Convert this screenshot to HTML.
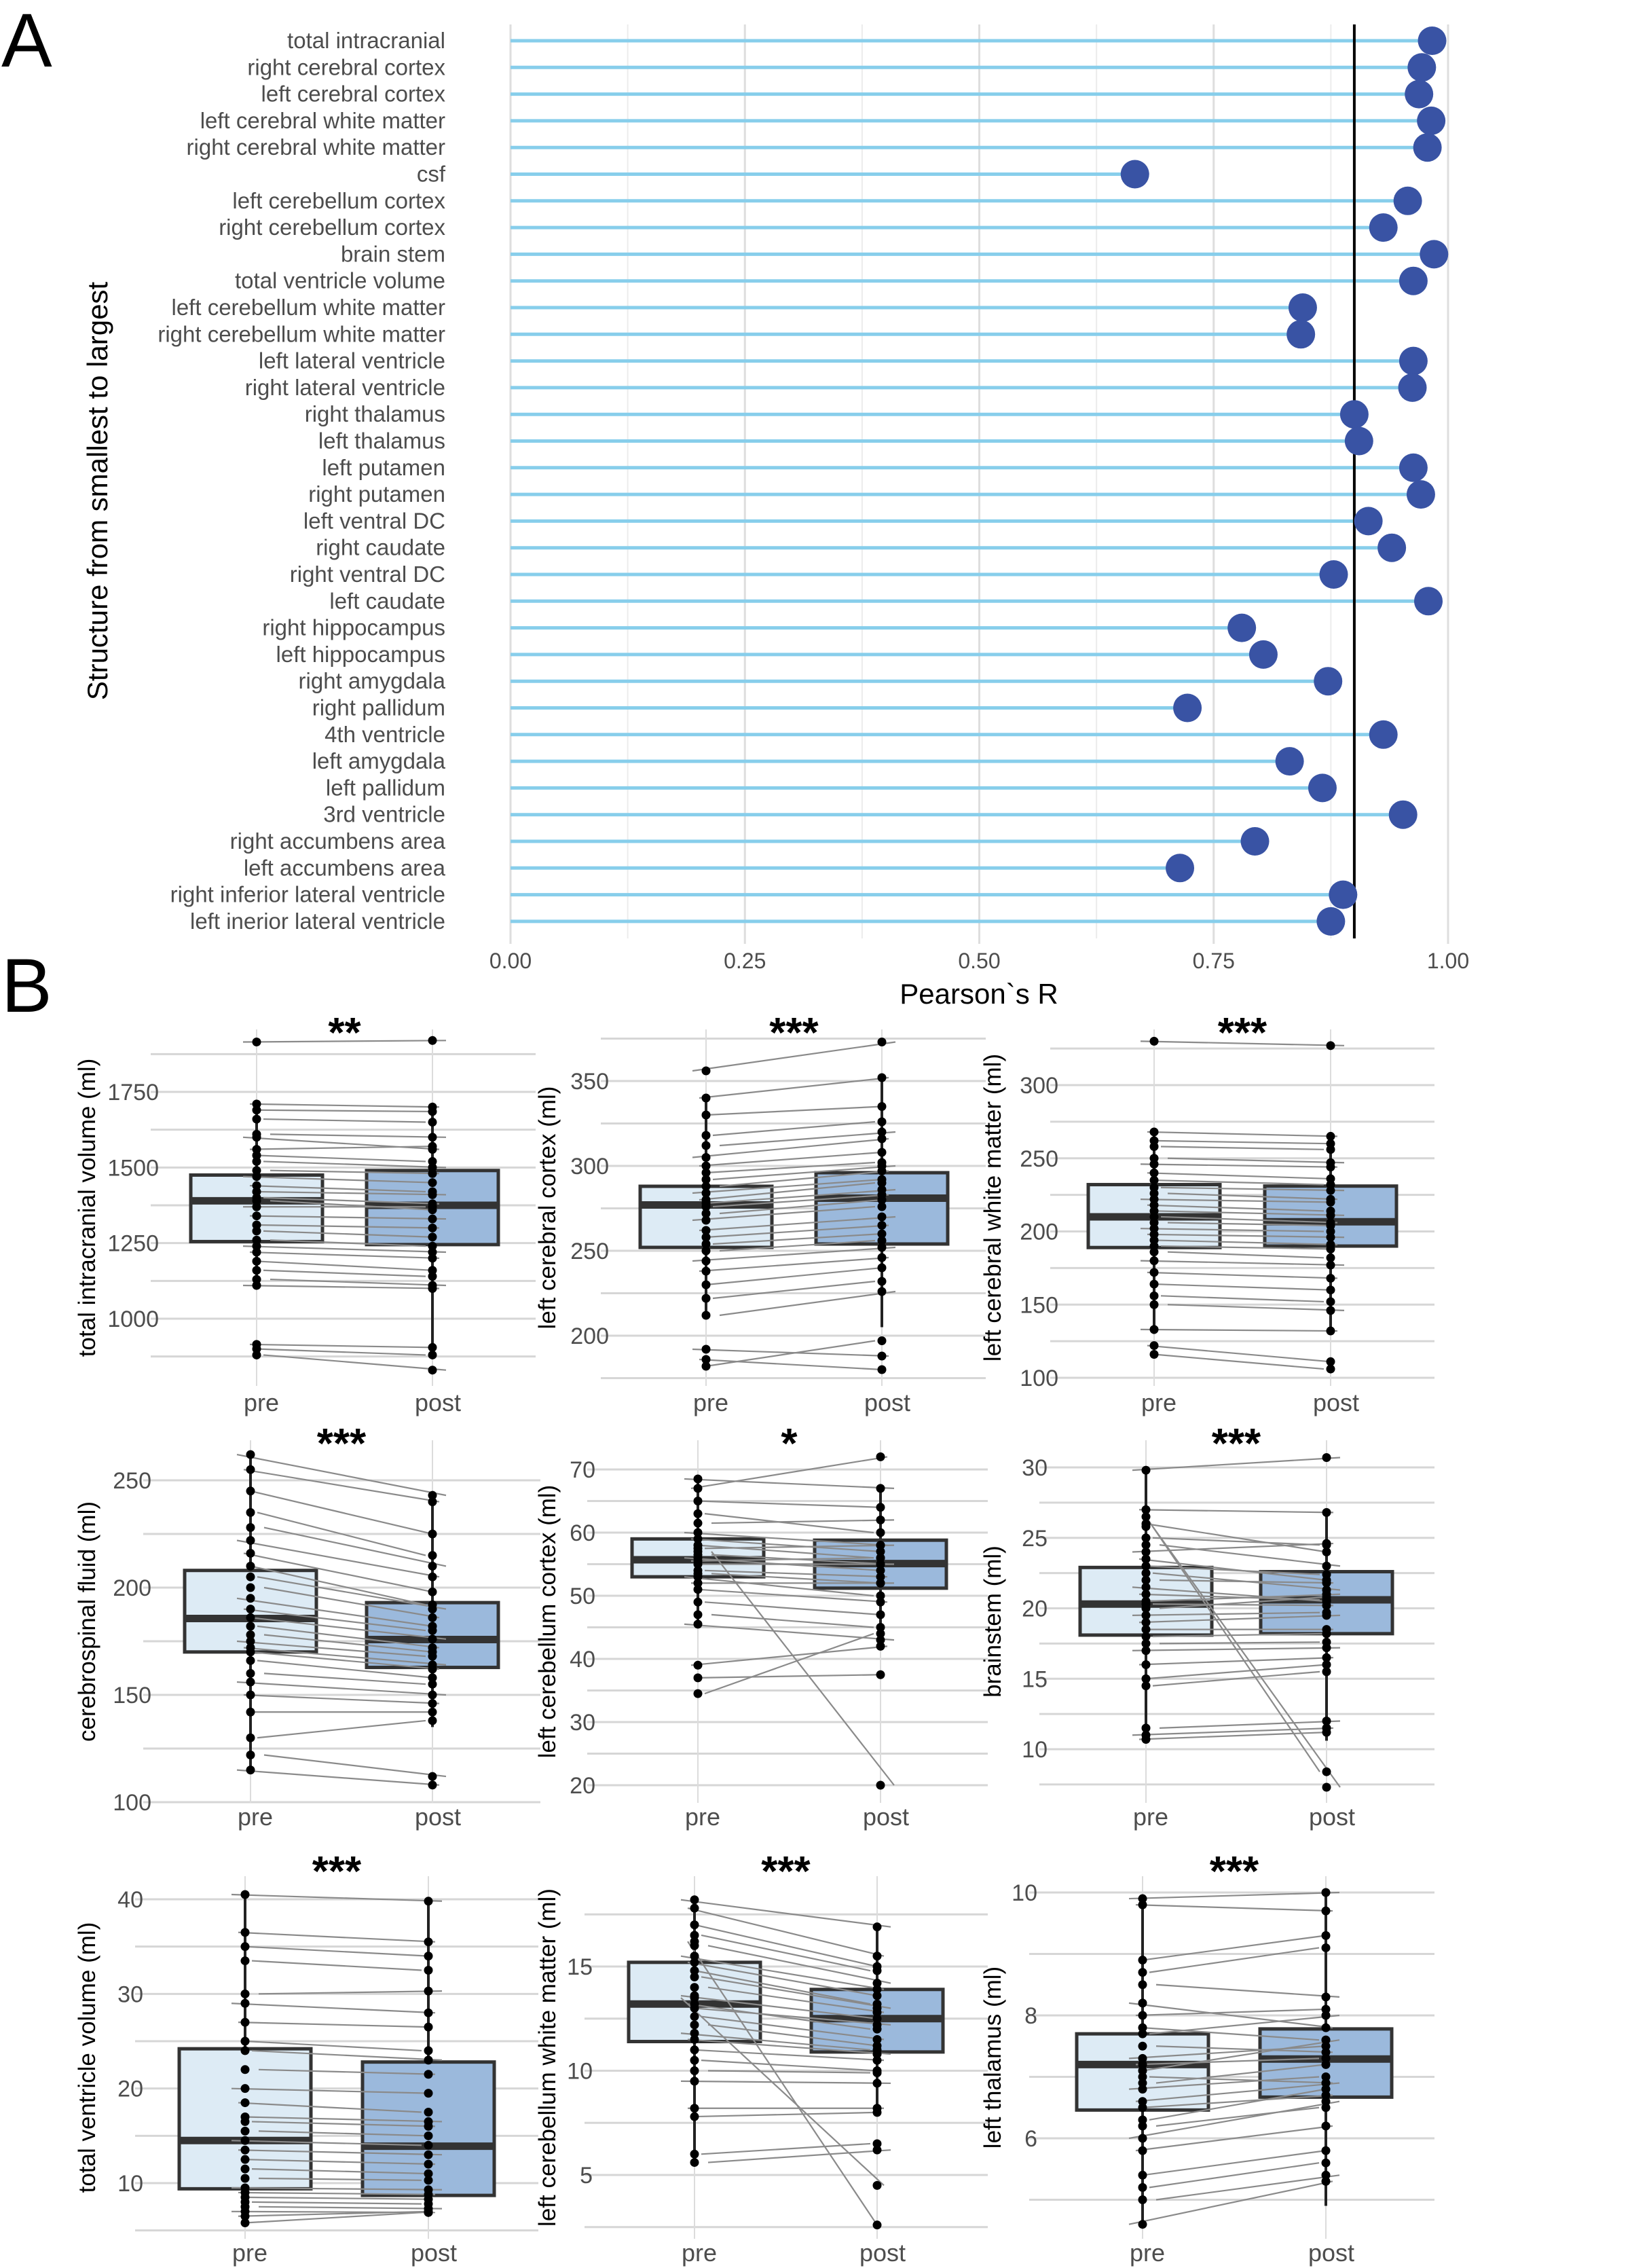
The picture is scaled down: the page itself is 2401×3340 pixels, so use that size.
<!DOCTYPE html>
<html><head><meta charset="utf-8">
<style>
html,body{margin:0;padding:0;background:#fff;}
svg{display:block;}
text{font-family:"Liberation Sans Narrow","Liberation Sans",sans-serif;}
</style></head>
<body>
<svg id="fig" xmlns="http://www.w3.org/2000/svg" width="2401" height="3340" viewBox="0 0 2401 3340">
<text x="2" y="98" font-size="112" fill="#000">A</text>
<text x="2" y="1490" font-size="112" fill="#000">B</text>
<g id="panelA"></g>
<g id="panelB"></g>
</svg>
<script>
const NS="http://www.w3.org/2000/svg";
const structures=["total intracranial","right cerebral  cortex","left cerebral cortex","left cerebral white matter","right cerebral white matter","csf","left cerebellum cortex","right cerebellum cortex","brain stem","total ventricle volume","left cerebellum white matter","right cerebellum white matter","left lateral ventricle","right lateral ventricle","right thalamus","left thalamus","left putamen","right putamen","left ventral DC","right caudate","right ventral DC","left caudate","right hippocampus","left hippocampus","right amygdala","right pallidum","4th ventricle","left amygdala","left pallidum","3rd ventricle","right accumbens area","left accumbens area","right inferior lateral ventricle","left inerior lateral ventricle"];
const pearsonR=[0.983,0.972,0.969,0.982,0.978,0.666,0.957,0.931,0.985,0.963,0.845,0.843,0.963,0.962,0.900,0.905,0.963,0.971,0.915,0.940,0.878,0.979,0.780,0.803,0.872,0.722,0.931,0.831,0.866,0.952,0.794,0.714,0.888,0.875];
const xTicks=[0,0.25,0.5,0.75,1.0];
const xTickLabels=["0.00","0.25","0.50","0.75","1.00"];
const threshold=0.9;

function mk(tag,attrs,parent){const e=document.createElementNS(NS,tag);for(const k in attrs)e.setAttribute(k,attrs[k]);parent.appendChild(e);return e;}

(function(){
const g=document.getElementById('panelA');
const x=v=>752+v*1381;
const y=i=>60+i*39.3;
for(let v=0.125;v<1.01;v+=0.25){const l=mk('line',{x1:x(v),x2:x(v),y1:36,y2:1382,stroke:'#ececec','stroke-width':2},g);

}
xTicks.forEach((v,i)=>{const l=mk('line',{x1:x(v),x2:x(v),y1:36,y2:1390,stroke:'#dedede','stroke-width':3},g);


const t=mk('text',{x:x(v),y:1426,'font-size':32,fill:'#4d4d4d','text-anchor':'middle'},g);t.textContent=xTickLabels[i];

});
structures.forEach((s,i)=>{
const l=mk('line',{x1:x(0),x2:x(pearsonR[i]),y1:y(i),y2:y(i),stroke:'#87CEEB','stroke-width':5},g);


const t=mk('text',{x:656,y:y(i)+11,'font-size':33,fill:'#4d4d4d','text-anchor':'end'},g);t.textContent=s;


});
const vl=mk('line',{x1:x(threshold),x2:x(threshold),y1:36,y2:1382,stroke:'#000','stroke-width':4},g);


structures.forEach((s,i)=>{const c=mk('circle',{cx:x(pearsonR[i]),cy:y(i),r:21,fill:'#3953A4'},g);

});
const xt=mk('text',{x:1442,y:1478,'font-size':42,fill:'#000','text-anchor':'middle'},g);xt.textContent='Pearson`s R';


const yt=mk('text',{x:0,y:0,'font-size':42,fill:'#000','text-anchor':'middle',transform:'translate(158,723) rotate(-90)'},g);yt.textContent='Structure from smallest to largest';


})();

const titles=["total intracranial volume (ml)","left cerebral cortex (ml)","left cerebral white matter (ml)","cerebrospinal fluid (ml)","left cerebellum cortex (ml)","brainstem (ml)","total ventricle volume (ml)","left cerebellum white matter (ml)","left thalamus (ml)"];
const stars=["**","***","***","***","*","***","***","***","***"];
const ticks=[[1000,1250,1500,1750],[200,250,300,350],[100,150,200,250,300],[100,150,200,250],[20,30,40,50,60,70],[10,15,20,25,30],[10,20,30,40],[5,10,15],[6,8,10]];
const preBox=[[1110,1255,1390,1475,1710],[210,252,277,288,340],[130,189,210,232,268],[115,170,185.6,208,262],[45.5,53,55.7,59,68.5],[10.7,18.1,20.3,22.9,29.8],[5.8,9.4,14.5,24.2,40.5],[5.6,11.4,13.2,15.2,18.2],[4.6,6.46,7.2,7.7,9.9]];
const postBox=[[905,1245,1375,1490,1700],[205,254,281,296,352],[130,190,206.6,231,265],[135,162.8,175.8,193,243],[42,51.2,55.1,58.8,67],[10.6,18.2,20.6,22.6,26.8],[6.9,8.7,13.9,22.8,39.8],[8,10.9,12.5,13.9,16.9],[4.9,6.67,7.29,7.78,10]];
const prePts=[
[1915,1710,1690,1660,1610,1600,1560,1540,1520,1490,1470,1440,1420,1400,1390,1370,1340,1310,1290,1260,1240,1220,1190,1160,1130,1110,915,900,880],
[356,340,330,318,312,305,300,296,292,288,284,280,278,276,272,268,262,258,254,250,244,238,230,222,212,192,186,182],
[330,268,262,258,250,246,240,235,230,226,222,218,214,210,206,202,198,194,190,186,180,172,164,156,150,133,122,116],
[262,255,245,235,228,222,216,210,205,200,195,190,186,182,178,175,172,170,166,160,156,150,142,130,122,115],
[68.5,67,65,63,61.5,60,59,58,57.5,56.5,56,55.5,55,54,53.5,53,52,51,49,47,45.5,39,37,34.5,57],
[29.8,27,26,25,24.5,24,23.5,23,22.5,22,21.5,21,20.5,20.3,20,19.5,19,18.5,18,17.5,17,16,15,14.5,11.5,11,10.7,26.5,25.8],
[40.5,36.5,35,33.5,30,29,27,25,24,22,20,18.5,17,16.5,15.5,14.5,13.5,12.5,11.5,10.5,9.5,9,8.5,8,7.5,7,6.5,5.8],
[18.2,17.8,17,16.5,16,15.5,15.2,14.8,14.5,14,13.6,13.2,13,12.6,12.2,11.8,11.5,11,10.5,10,9.5,8.2,7.8,6,5.6,13.5,16.2],
[9.9,9.8,8.9,8.7,8.5,8.2,8,7.8,7.7,7.5,7.3,7.2,7.1,7,6.9,6.8,6.6,6.5,6.3,6.2,6,5.8,5.4,5.2,5,4.6]];
const postPts=[
[1920,1700,1685,1650,1600,1560,1570,1520,1500,1480,1450,1420,1410,1380,1360,1370,1330,1300,1270,1240,1220,1200,1160,1140,1110,1100,905,880,830],
[373,352,335,326,320,316,308,302,300,297,292,290,286,283,280,276,270,265,260,256,252,246,240,232,226,188,180,197],
[327,265,260,256,247,244,236,232,228,222,220,214,211,206,204,200,196,191,188,182,177,168,160,152,146,132,111,106],
[243,240,225,215,210,205,198,192,190,186,182,180,176,172,170,168,164,162,158,155,150,146,142,138,112,108],
[67,72,64,60,62,58,57,56,58,55,54,56,55,53,52,50,52,49,47,45,43,42,37.5,44,20],
[30.7,26.8,24,24.5,23,24.6,22,22.4,21.3,21.8,20.5,20.6,21,20.2,20.8,19.7,19.5,18.5,18.2,17.6,17.2,16.5,16,15.5,12,11.5,11.2,8.4,7.3],
[39.8,35.5,34,32.5,30.3,28,26.5,24,23,21.5,19.5,17.5,16.5,16,15,14,13,12,11,10.3,9.3,8.8,8.3,7.8,7.3,6.9,7,6.9],
[16.9,15.5,15,14.8,14.2,13.9,13.6,13.2,13,12.8,12.5,12,12.2,11.5,11.2,11,10.8,10.5,10,9.9,9.4,8.2,8,6.5,6.2,4.5,2.6],
[10,9.7,9.3,9.1,8.3,7.8,8.1,7.6,8,7.4,7.5,7.3,7.6,6.9,7.2,7,6.9,6.7,6.8,6.5,6.6,6.2,5.8,5.6,5.4,5.3]];

const layout=[
{gl:222,gr:789,px:378,qx:637,top:1516,bot:2041,va:1750,ya:1608,vb:1000,yb:1942,tx:140,lab:2078,sy:1542},
{gl:885,gr:1452,px:1040,qx:1299,top:1516,bot:2041,va:350,ya:1592,vb:200,yb:1967,tx:818,lab:2078,sy:1542},
{gl:1547,gr:2113,px:1700,qx:1960,top:1516,bot:2041,va:300,ya:1598,vb:100,yb:2029,tx:1474,lab:2078,sy:1542},
{gl:211,gr:796,px:369,qx:637,top:2121,bot:2655,va:250,ya:2180,vb:100,yb:2654,tx:140,lab:2688,sy:2147},
{gl:865,gr:1455,px:1028,qx:1297,top:2121,bot:2655,va:70,ya:2164,vb:20,yb:2629,tx:818,lab:2688,sy:2147},
{gl:1531,gr:2113,px:1688,qx:1954,top:2121,bot:2655,va:30,ya:2161,vb:10,yb:2576,tx:1474,lab:2688,sy:2147},
{gl:199,gr:793,px:361,qx:631,top:2763,bot:3297,va:40,ya:2797,vb:10,yb:3215,tx:140,lab:3330,sy:2777},
{gl:861,gr:1455,px:1023,qx:1292,top:2763,bot:3297,va:15,ya:2896,vb:5,yb:3203,tx:818,lab:3330,sy:2777},
{gl:1516,gr:2113,px:1683,qx:1953,top:2763,bot:3297,va:10,ya:2787,vb:6,yb:3149,tx:1474,lab:3330,sy:2777}];

(function(){
const root=document.getElementById('panelB');
titles.forEach((title,p)=>{
const L=layout[p];
const g=mk('g',{},root);


const y=v=>L.ya+(v-L.va)*(L.yb-L.ya)/(L.vb-L.va);
const tk=ticks[p];const step=tk[1]-tk[0];const half=step/2;
const vTop=L.va+(L.top-L.ya)*(L.vb-L.va)/(L.yb-L.ya);
const vBot=L.va+(L.bot-L.ya)*(L.vb-L.va)/(L.yb-L.ya);
let start=Math.ceil(Math.min(vTop,vBot)/half)*half;
for(let v=start;v<=Math.max(vTop,vBot)+1e-9;v+=half){
const l=mk('line',{x1:L.gl,x2:L.gr,y1:y(v),y2:y(v),stroke:'#d6d6d6','stroke-width':3},g);

}
[L.px,L.qx].forEach(xx=>{const l=mk('line',{x1:xx,x2:xx,y1:L.top,y2:L.bot,stroke:'#dcdcdc','stroke-width':2},g);

});
tk.forEach(v=>{const t=mk('text',{x:L.gl+12,y:y(v)+12,'font-size':34,fill:'#4d4d4d','text-anchor':'end'},g);t.textContent=String(v);

});
[[L.px,preBox[p],'#DDEBF5'],[L.qx,postBox[p],'#9BB9DC']].forEach(([cx,b,fill],k)=>{
const w=mk('line',{x1:cx,x2:cx,y1:y(b[0]),y2:y(b[4]),stroke:'#222','stroke-width':4},g);


const r=mk('rect',{x:cx-97,y:Math.min(y(b[1]),y(b[3])),width:194,height:Math.abs(y(b[1])-y(b[3])),fill:fill,stroke:'#333','stroke-width':5},g);


const m=mk('line',{x1:cx-97,x2:cx+97,y1:y(b[2]),y2:y(b[2]),stroke:'#333','stroke-width':11},g);


});
prePts[p].forEach((v,i)=>{const l=mk('line',{x1:L.px-20+(i%5)*10,x2:L.qx+20-(i%4)*10,y1:y(v),y2:y(postPts[p][i]),stroke:'#8a8a8a','stroke-width':2.2},g);

});
prePts[p].forEach((v,i)=>{
const a=mk('circle',{cx:L.px,cy:y(v),r:6.5,fill:'#000'},g);


const b=mk('circle',{cx:L.qx,cy:y(postPts[p][i]),r:6.5,fill:'#000'},g);

});
const st=mk('text',{x:(L.px+L.qx)/2,y:L.sy,'font-size':62,'font-weight':'bold',fill:'#000','text-anchor':'middle'},g);st.textContent=stars[p];


[[L.px+7,'pre'],[L.qx+8,'post']].forEach(([xx,s])=>{const t=mk('text',{x:xx,y:L.lab,'font-size':36,fill:'#4d4d4d','text-anchor':'middle'},g);t.textContent=s;

});
const yt=mk('text',{x:0,y:0,'font-size':35,fill:'#000','text-anchor':'middle',transform:`translate(${L.tx},${(L.top+L.bot)/2}) rotate(-90)`},g);yt.textContent=title;


});
})();
</script>
</body></html>
